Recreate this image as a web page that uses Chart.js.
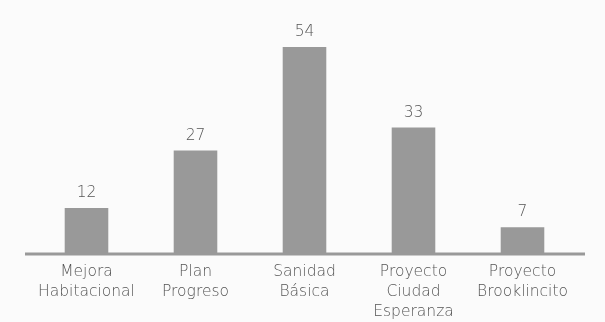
<!DOCTYPE html>
<html>
<head>
<meta charset="utf-8">
<script src="https://cdn.jsdelivr.net/npm/chart.js@4"></script>
<style>
  html, body { margin: 0; padding: 0; background: #fbfbfb; }
  #wrap { width: 605px; height: 322px; }
</style>
</head>
<body>
<div id="wrap"><canvas id="projChart"></canvas></div>
<script>
const categories = [
    ["Mejora", "Habitacional"],
    ["Plan", "Progreso"],
    ["Sanidad", "Básica"],
    ["Proyecto", "Ciudad", "Esperanza"],
    ["Proyecto", "Brooklincito"]
];
const values = [12, 27, 54, 33, 7];

const barColor = "#999999";
const textColor = "#555555";
const fontFamily = "'DejaVu Sans', sans-serif";

// value labels above each bar + the long baseline under them
const barExtras = {
    id: "barExtras",
    afterDatasetsDraw(chart) {
        const ctx = chart.ctx;
        const area = chart.chartArea;
        const y0 = chart.scales.y.getPixelForValue(0);
        ctx.save();
        ctx.strokeStyle = barColor;
        ctx.lineWidth = 3;
        ctx.beginPath();
        ctx.moveTo(area.left - 7, y0);
        ctx.lineTo(area.right + 8, y0);
        ctx.stroke();

        ctx.fillStyle = textColor;
        ctx.font = "200 15.5px " + fontFamily;
        ctx.textAlign = "center";
        ctx.textBaseline = "bottom";
        chart.getDatasetMeta(0).data.forEach(function (bar, i) {
            ctx.fillText(values[i], bar.x, bar.y - 7);
        });
        ctx.restore();
    }
};

document.addEventListener("DOMContentLoaded", function () {
    const ctx = document.getElementById("projChart").getContext("2d");
    new Chart(ctx, {
        type: "bar",
        data: {
            labels: categories,
            datasets: [
                {
                    data: values,
                    backgroundColor: barColor,
                    borderWidth: 0,
                    categoryPercentage: 1,
                    barPercentage: 0.4
                }
            ]
        },
        options: {
            responsive: true,
            maintainAspectRatio: false,
            animation: false,
            layout: { padding: { left: 32, right: 28, top: 24, bottom: 0 } },
            plugins: {
                legend: { display: false },
                tooltip: { enabled: false }
            },
            scales: {
                x: {
                    grid: { display: false },
                    border: { display: false },
                    afterFit(scale) { scale.height = 68; },
                    ticks: {
                        color: textColor,
                        font: { family: fontFamily, size: 15.5, weight: "200", lineHeight: 1.29 },
                        padding: 0,
                        maxRotation: 0,
                        autoSkip: false
                    }
                },
                y: {
                    display: false,
                    min: 0,
                    max: 60
                }
            }
        },
        plugins: [barExtras]
    });
});
</script>
</body>
</html>
